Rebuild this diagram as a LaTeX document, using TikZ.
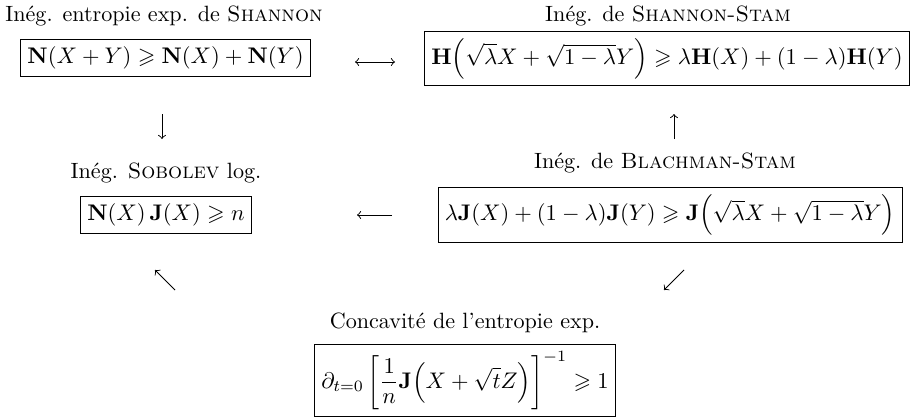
\documentclass[tikz,border=0pt]{standalone}
\usepackage{amsmath,amssymb}
\usetikzlibrary{calc}
\begin{document}
\begin{tikzpicture}[x=0.443pt,y=-0.443pt,
  lab/.style={inner sep=0pt,font=\fontsize{9.8}{11.5}\selectfont},
  box/.style={draw,line width=0.4pt,inner sep=3pt},
  arr/.style={line width=0.4pt,->,>=to}]
\useasboundingbox (0,0) rectangle (912,418);
% row 1
\node[lab,anchor=base] (l1) at (164,21) {Inég. entropie exp. de \textsc{Shannon}};
\node[box] (b1) at (165.5,58) {$\mathbf{N}(X+Y)\geqslant\mathbf{N}(X)+\mathbf{N}(Y)$};
\node[lab,anchor=base] (l2) at (668,21) {Inég. de \textsc{Shannon-Stam}};
\node[box] (b2) at (667,58.5) {$\mathbf{H}\Bigl(\sqrt{\lambda}X+\sqrt{1-\lambda}Y\Bigr)\geqslant\lambda\mathbf{H}(X)+(1-\lambda)\mathbf{H}(Y)$};
% row 2
\node[lab,anchor=base] (l3) at (166,178) {Inég. \textsc{Sobolev} log.};
\node[box] (b3) at (166,215) {$\mathbf{N}(X)\,\mathbf{J}(X)\geqslant n$};
\node[lab,anchor=base] (l4) at (665,168) {Inég. de \textsc{Blachman-Stam}};
\node[box] (b4) at (670,215) {$\lambda\mathbf{J}(X)+(1-\lambda)\mathbf{J}(Y)\geqslant\mathbf{J}\Bigl(\sqrt{\lambda}X+\sqrt{1-\lambda}Y\Bigr)$};
% row 3
\node[lab,anchor=base] (l5) at (465,328) {Concavité de l'entropie exp.};
\node[box] (b5) at (465,380.5) {$\displaystyle\partial_{t=0}\left[\frac{1}{n}\mathbf{J}\Bigl(X+\sqrt{t}Z\Bigr)\right]^{-1}\geqslant 1$};
% connectors
\coordinate (c1a) at (355,62); \coordinate (c1b) at (395,62);
\draw[arr,<->] (c1a) -- (c1b);
\coordinate (c2a) at (162,114); \coordinate (c2b) at (162,139);
\draw[arr] (c2a) -- (c2b);
\coordinate (c3a) at (674,139); \coordinate (c3b) at (674,114);
\draw[arr] (c3a) -- (c3b);
\coordinate (c4a) at (392,215); \coordinate (c4b) at (357,215);
\draw[arr] (c4a) -- (c4b);
\coordinate (c5a) at (175,290); \coordinate (c5b) at (155,270);
\draw[arr] (c5a) -- (c5b);
\coordinate (c6a) at (684,270); \coordinate (c6b) at (664,290);
\draw[arr] (c6a) -- (c6b);
\end{tikzpicture}
\end{document}
